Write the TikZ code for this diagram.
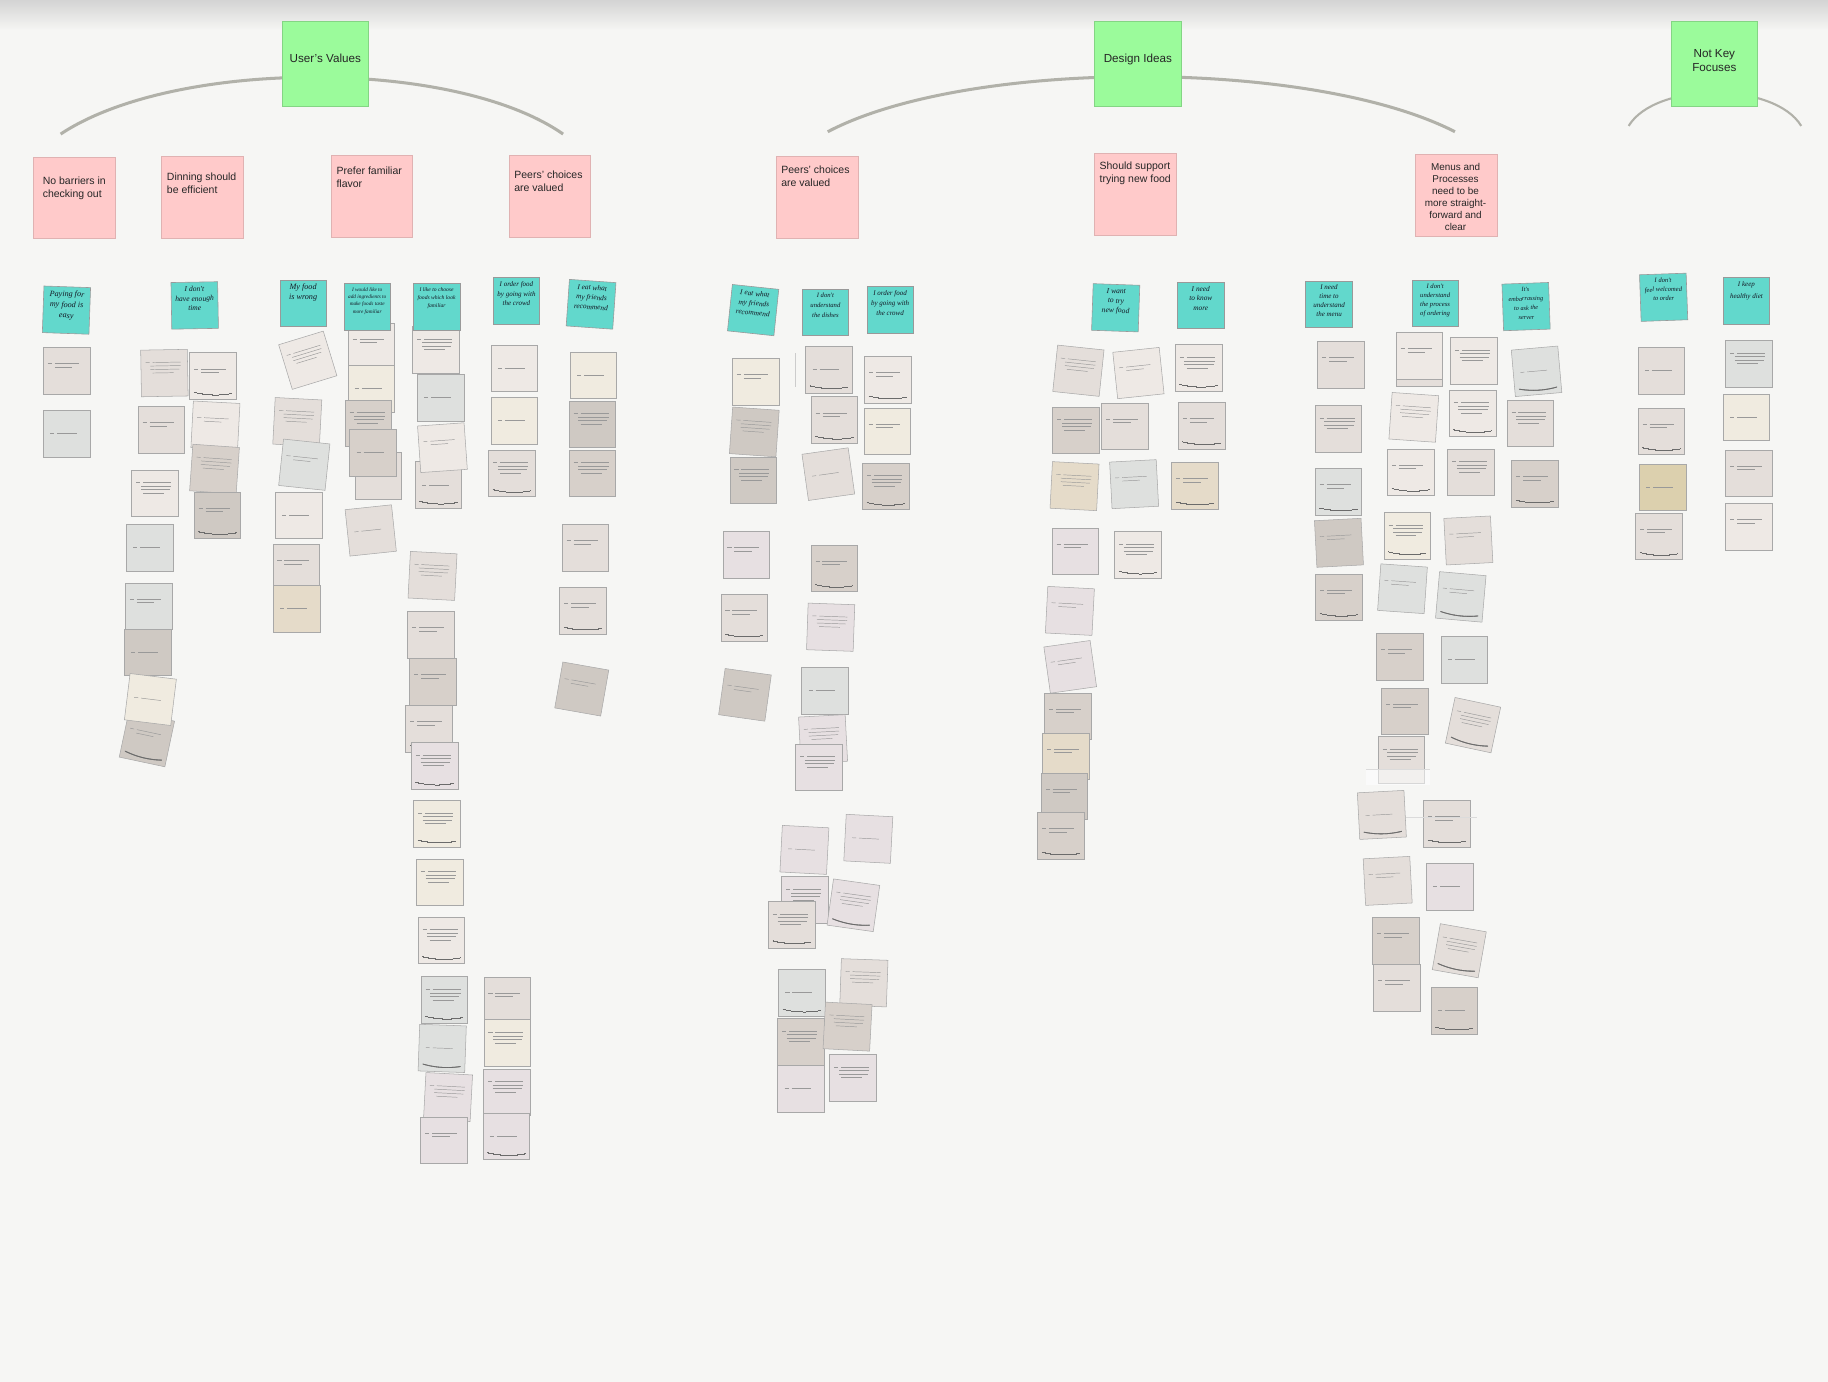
\documentclass[tikz,border=0pt]{standalone}
\usepackage{fontspec}
\setmainfont{Liberation Sans}
\newfontfamily\hand{Liberation Serif}

\definecolor{bg}{HTML}{F6F6F4}
\definecolor{greenn}{HTML}{9BFB9B}
\definecolor{pinkn}{HTML}{FFCACA}
\definecolor{tealn}{HTML}{62D8CC}
\definecolor{arcc}{HTML}{B1B1A9}
\definecolor{inkc}{HTML}{141A26}
\definecolor{cA}{HTML}{EEE9E5}
\definecolor{cB}{HTML}{E4DEDA}
\definecolor{cC}{HTML}{D7D0CA}
\definecolor{cD}{HTML}{DEE0DE}
\definecolor{cE}{HTML}{CFC9C3}
\definecolor{cF}{HTML}{F0EBE0}
\definecolor{cG}{HTML}{DCD0AE}
\definecolor{cH}{HTML}{E7E0E2}
\definecolor{cI}{HTML}{E5DBC9}

% printed text lines on the small cards
\newcommand\linesA{\put(2,24){\rule{3.5pt}{.4pt}}\put(8,24){\rule{21pt}{.4pt}}\put(8,21){\rule{15pt}{.4pt}}}
\newcommand\linesB{\put(2,27){\rule{3.5pt}{.4pt}}\put(8,27){\rule{24pt}{.4pt}}\put(6,24){\rule{26pt}{.4pt}}\put(6,21){\rule{25pt}{.4pt}}\put(8,18){\rule{18pt}{.4pt}}}
\newcommand\linesC{\put(4,18){\rule{3.5pt}{.4pt}}\put(10,18){\rule{17pt}{.4pt}}}
% curled lower edge of a card
\newcommand\curlline{{\color{black!58}\linethickness{0.7pt}\qbezier(2,4)(18,0)(34,3)}}
\newcommand\cpic[2]{\begin{picture}(36,36)\color{black!40}\csname lines#1\endcsname\ifnum#2=1\relax\curlline\fi\end{picture}}
% name, position, rotation, fill, text lines, curl
\newcommand\crd[6]{\node[card,fill=#4,rotate=#3] (#1) at (#2) {\cpic{#5}{#6}};}
% handwritten text of a teal note
\newcommand\tl[3]{\parbox[c][36pt][t]{36pt}{\centering\hand\itshape\fontsize{#1}{#2}\selectfont\color{inkc}\vspace*{1.5pt}#3}}

\begin{document}
\begin{tikzpicture}[x=1pt,y=-1pt,
  hdr/.style={draw=greenn!85!black, line width=0.4pt, fill=greenn, minimum width=74pt, minimum height=73pt, inner sep=0pt},
  pinknote/.style={draw=pinkn!88!black, line width=0.4pt, fill=pinkn, minimum width=70pt, minimum height=70pt, inner sep=0pt},
  hdrtext/.style={font=\fontsize{10}{11.5}\selectfont, text=black!85, align=center, inner sep=0pt},
  ptext/.style={font=\fontsize{9}{11}\selectfont, text=black!85, inner sep=0pt},
  tealnote/.style={draw=black!40, line width=0.5pt, fill=tealn, minimum width=40pt, minimum height=40pt, inner sep=2pt},
  card/.style={draw=black!34, line width=0.45pt, minimum width=40pt, minimum height=40pt, inner sep=2pt},
  bracket/.style={draw=arcc, line width=2.6pt}]

\fill[bg] (0,0) rectangle (1568,1185);
\shade[top color=black!17, bottom color=bg] (0,0) rectangle (1568,26);
\useasboundingbox (0,0) rectangle (1568,1185);

% brackets under the group headings
\coordinate (A1s) at (52,115);   \coordinate (A1e) at (483,115);
\coordinate (A2s) at (710,113);  \coordinate (A2e) at (1248,113);
\coordinate (A3s) at (1397,108); \coordinate (A3e) at (1545,108);
\draw[bracket] (A1s) .. controls (150,50) and (390,50) .. (A1e);
\draw[bracket] (A2s) .. controls (830,50) and (1125,50) .. (A2e);
\draw[bracket, line width=1.8pt] (A3s) .. controls (1420,70) and (1522,70) .. (A3e);

% group headings
\node[hdr] (G1) at (279,54.5) {};
\node[hdr] (G2) at (976,54.5) {};
\node[hdr] (G3) at (1470.5,54.5) {};
\node[hdrtext] (G1t) at (279,50) {User's Values};
\node[hdrtext] (G2t) at (976,51) {Design Ideas};
\node[hdrtext] (G3t) at (1470.5,52) {Not Key\\Focuses};

% pink insight notes
\node[pinknote] (P1) at (63.5,169.5) {};
\node[pinknote] (P2) at (173.5,169) {};
\node[pinknote] (P3) at (319,168.5) {};
\node[pinknote] (P4) at (471.5,168.5) {};
\node[pinknote] (P5) at (701,169) {};
\node[pinknote] (P6) at (974,166.5) {};
\node[pinknote] (P7) at (1249,167.5) {};
\node[ptext, anchor=west, align=left] (P1t) at (36.5,161.5) {No barriers in\\checking out};
\node[ptext, anchor=west, align=left] (P2t) at (143,157.5) {Dinning should\\be efficient};
\node[ptext, anchor=west, align=left] (P3t) at (288.5,152) {Prefer familiar\\flavor};
\node[ptext, anchor=west, align=left] (P4t) at (441,155.5) {Peers' choices\\are valued};
\node[ptext, anchor=west, align=left] (P5t) at (670,151.5) {Peers' choices\\are valued};
\node[ptext, anchor=west, align=left] (P6t) at (943,148.5) {Should support\\trying new food};
\node[ptext, align=center, font=\fontsize{8.5}{10.4}\selectfont] (P7t) at (1248.5,169) {Menus and\\Processes\\need to be\\more straight-\\forward and\\clear};

% ---- cards: User's Values ----
\crd{a1}{57,318}{0}{cB}{A}{0}
\crd{a2}{57,372}{0}{cD}{C}{0}

\crd{b1}{141,320}{1}{cB}{B}{0}
\crd{b2}{182.7,322.5}{0}{cA}{A}{1}
\crd{b3}{138.3,368.5}{0}{cB}{A}{0}
\crd{b4}{184.8,365}{-3}{cA}{A}{0}
\crd{b5}{184,402.4}{-4}{cC}{B}{0}
\crd{b6}{186.4,442}{0}{cE}{A}{1}
\crd{b7}{133,423}{0}{cA}{B}{0}
\crd{b8}{128.3,470}{0}{cD}{C}{0}
\crd{b9}{127.5,520}{0}{cD}{A}{0}
\crd{b10}{126.5,559.6}{0}{cE}{C}{0}
\crd{b12}{126,634}{-12}{cE}{A}{1}
\crd{b11}{129,600}{-7}{cF}{C}{0}

\crd{m1}{264,309}{17}{cA}{B}{0}
\crd{m2}{255,362}{-3}{cB}{B}{0}
\crd{m3}{261,398.6}{-6}{cD}{A}{0}
\crd{m4}{256,442}{0}{cA}{C}{0}
\crd{m5}{254,487}{0}{cB}{A}{0}
\crd{m6}{254.3,522}{0}{cI}{C}{0}

\crd{s1}{318.5,297}{0}{cA}{A}{0}
\crd{s2}{318.5,333.5}{0}{cF}{C}{1}
\crd{s5}{324.5,408}{0}{cB}{C}{0}
\crd{s3}{316,363}{0}{cC}{B}{0}
\crd{s4}{320,388.5}{0}{cC}{C}{0}
\crd{s6}{318,455}{6}{cB}{C}{0}

\crd{y1}{374,300}{0}{cA}{B}{0}
\crd{y2}{378,341}{0}{cD}{C}{0}
\crd{y4}{376,416}{0}{cB}{C}{1}
\crd{y3}{379.5,384}{4}{cA}{A}{0}
\crd{y5}{371,494}{-3}{cB}{B}{0}
\crd{y6}{369.5,544.5}{0}{cB}{A}{0}
\crd{y7}{371.4,584.7}{0}{cC}{A}{0}
\crd{y8}{368,625}{0}{cB}{A}{1}
\crd{y9}{372.7,657}{0}{cH}{B}{1}
\crd{y10}{374.6,706.6}{0}{cF}{B}{1}
\crd{y11}{377,756.7}{0}{cF}{B}{0}
\crd{y12}{378.5,806.6}{0}{cA}{B}{1}
\crd{y13}{381,857.8}{0}{cD}{B}{1}
\crd{y14}{379.3,899.3}{-2}{cD}{C}{1}
\crd{y15}{384.3,941}{-3}{cH}{B}{0}
\crd{y16}{380.6,978.2}{0}{cH}{A}{0}

\crd{z1}{441,316}{0}{cA}{C}{0}
\crd{z2}{441,361}{0}{cF}{C}{0}
\crd{z3}{439,406}{0}{cB}{B}{1}
\crd{z4}{435,858}{0}{cB}{A}{0}
\crd{z5}{435,894.7}{0}{cF}{B}{0}
\crd{z6}{434.6,936.8}{0}{cH}{B}{0}
\crd{z7}{434.3,974.7}{0}{cH}{C}{1}

\crd{k1}{509,322}{0}{cF}{C}{0}
\crd{k2}{508,364}{0}{cE}{B}{0}
\crd{k3}{508,406}{0}{cC}{B}{0}
\crd{k4}{502,470}{0}{cB}{A}{0}
\crd{k5}{500,524}{0}{cB}{A}{1}
\crd{k6}{499,591}{-10}{cE}{A}{0}

% ---- cards: Design Ideas ----
\crd{c8a}{648,327.4}{0}{cF}{A}{0}
\crd{c8b}{647,370.5}{-4}{cE}{B}{0}
\crd{c8c}{646,412}{0}{cE}{B}{0}
\crd{c8d}{640,476}{0}{cH}{A}{0}
\crd{c8e}{638.3,530}{0}{cB}{A}{1}
\crd{c8f}{639,596}{-8}{cE}{A}{0}
\draw[black!20, line width=0.6pt] (682,303) -- (682,332);

\crd{c9a}{711,317}{0}{cB}{C}{1}
\crd{c9b}{715.7,360.3}{0}{cB}{A}{1}
\crd{c9c}{710.5,406.7}{8}{cB}{C}{0}
\crd{c9d}{715.5,487.4}{0}{cC}{A}{1}
\crd{c9e}{712.5,538}{-2}{cH}{B}{0}
\crd{c9f}{707.5,592.3}{0}{cD}{C}{0}
\crd{c9g}{706,634}{3}{cH}{B}{0}
\crd{c9h}{702.3,658.2}{0}{cH}{B}{0}
\crd{c9j}{690,729}{-3}{cH}{C}{0}
\crd{c9k}{744.8,719.5}{-3}{cH}{C}{0}
\crd{c9l}{690.5,772}{0}{cH}{B}{0}
\crd{c9m}{679,793}{0}{cB}{B}{1}
\crd{c9n}{732,776.5}{-8}{cH}{B}{1}
\crd{c9o}{687.7,851.7}{0}{cD}{C}{1}
\crd{c9p}{741,843}{-2}{cB}{B}{0}
\crd{c9q}{686.8,893.5}{0}{cC}{B}{0}
\crd{c9r}{727,880.6}{-3}{cC}{B}{0}
\crd{c9s}{687,934}{0}{cH}{C}{0}
\crd{c9t}{731.7,924.5}{0}{cH}{B}{0}

\crd{c10a}{761.4,325.7}{0}{cA}{A}{1}
\crd{c10b}{761,370}{0}{cF}{A}{0}
\crd{c10c}{759.7,417}{0}{cC}{B}{1}

\crd{d1}{925,318}{-6}{cB}{B}{0}
\crd{d2}{976.5,320}{6}{cA}{A}{0}
\crd{d4}{923,369}{0}{cC}{B}{0}
\crd{d5}{964.8,365.7}{0}{cB}{A}{0}
\crd{d7}{921.7,417}{-3}{cI}{B}{0}
\crd{d8}{972.8,415.3}{3}{cD}{A}{0}
\crd{d10}{922.3,473}{0}{cH}{A}{0}
\crd{d11}{976,476}{0}{cA}{B}{1}
\crd{d12}{917.7,524}{-3}{cH}{A}{0}
\crd{d13}{918,572}{8}{cH}{A}{0}
\crd{d14}{916,614.5}{0}{cC}{A}{0}
\crd{d15}{914.4,648.6}{0}{cI}{A}{0}
\crd{d16}{913,683}{0}{cE}{A}{0}
\crd{d17}{910,717}{0}{cC}{A}{1}

\crd{d3}{1028,315.7}{0}{cA}{B}{1}
\crd{d6}{1030.6,365}{0}{cB}{A}{1}
\crd{d9}{1025,416.6}{0}{cI}{A}{1}

\crd{e1}{1150,313}{0}{cB}{A}{0}
\crd{e2}{1148,367.7}{0}{cB}{B}{0}
\crd{e3}{1148,421.7}{0}{cD}{A}{1}
\crd{e4}{1148.5,465.6}{3}{cE}{A}{0}
\crd{e5}{1148.3,512.2}{0}{cC}{A}{1}

\crd{e6b}{1217.5,311}{0}{cB}{C}{0}
\crd{e6}{1217.5,305}{0}{cA}{A}{0}
\crd{e7}{1264,309.5}{0}{cA}{B}{0}
\crd{e8}{1212.7,358}{-4}{cA}{B}{0}
\crd{e9}{1263,354.6}{0}{cA}{B}{1}
\crd{e10}{1210,405}{0}{cA}{A}{1}
\crd{e11}{1261.6,405}{0}{cB}{B}{0}
\crd{e12}{1207,459.4}{0}{cF}{B}{1}
\crd{e13}{1259.5,463.6}{3}{cB}{A}{0}
\crd{e14}{1203,505}{-4}{cD}{A}{0}
\crd{e15}{1253,512}{-5}{cD}{A}{1}
\crd{e16}{1200.5,563.3}{0}{cC}{A}{0}
\crd{e17}{1256,565.8}{0}{cD}{C}{0}
\crd{e18}{1205,610.2}{0}{cC}{A}{0}
\crd{e19}{1263.5,622}{-12}{cB}{B}{1}
\crd{e20}{1202,651.7}{0}{cB}{B}{0}
\fill[white, fill opacity=0.55] (1172,660.5) rectangle (1227,673);
\draw[black!14, line width=0.8pt] (1172,660.3) -- (1227,660.3);
\crd{e21}{1185.3,699}{3}{cB}{C}{1}
\crd{e22}{1241,706.5}{0}{cB}{A}{1}
\draw[black!14, line width=0.8pt] (1206,701) -- (1267,701);
\crd{e23}{1190.3,755.6}{3}{cB}{A}{0}
\crd{e24}{1243.5,760.5}{0}{cH}{C}{0}
\crd{e25}{1197.2,807}{0}{cC}{A}{0}
\crd{e26}{1251.7,815.5}{-10}{cB}{B}{1}
\crd{e27}{1198.3,847.2}{0}{cB}{A}{0}
\crd{e28}{1247.3,867}{0}{cC}{C}{1}

\crd{f1}{1318,318.5}{5}{cD}{C}{1}
\crd{f2}{1312.5,363}{0}{cB}{B}{0}
\crd{f3}{1316.5,415}{0}{cC}{A}{1}

% ---- cards: Not Key Focuses ----
\crd{g1}{1425,318}{0}{cB}{C}{0}
\crd{g2}{1425,370}{0}{cB}{A}{1}
\crd{g3}{1426,418}{0}{cG}{C}{0}
\crd{g4}{1423,460}{0}{cB}{A}{1}

\crd{h1}{1500,312}{0}{cD}{B}{0}
\crd{h2}{1498,358}{0}{cF}{C}{0}
\crd{h3}{1500,406}{0}{cB}{A}{0}
\crd{h4}{1500,452}{0}{cA}{A}{0}

% teal handwritten notes
\node[tealnote, rotate=-2] (T1) at (57,266) {\tl{7}{9.2}{Paying for\\my food is\\easy}};
\node[tealnote, rotate=1] (T2) at (167,262) {\tl{6.5}{8.3}{I don't\\have enough\\time}};
\node[tealnote] (T3) at (260,260) {\tl{7}{8.8}{My food\\is wrong}};
\node[tealnote] (T4) at (315,263) {\tl{4.5}{6.3}{I would like to\\add ingredients to\\make foods taste\\more familiar}};
\node[tealnote] (T5) at (374.5,263) {\tl{4.8}{7}{I like to choose\\foods which look\\familiar}};
\node[tealnote] (T6) at (443,258) {\tl{6}{8.3}{I order food\\by going with\\the crowd}};
\node[tealnote, rotate=-4] (T7) at (507,261) {\tl{6.3}{8.3}{I eat what\\my friends\\recommend}};
\node[tealnote, rotate=-6] (T8) at (646,266) {\tl{6.3}{8.3}{I eat what\\my friends\\recommend}};
\node[tealnote] (T9) at (708,268) {\tl{5.7}{8.5}{I don't\\understand\\the dishes}};
\node[tealnote] (T10) at (763.5,266) {\tl{6}{8.5}{I order food\\by going with\\the crowd}};
\node[tealnote, rotate=-2] (T11) at (957,264) {\tl{6.5}{8.3}{I want\\to try\\new food}};
\node[tealnote] (T12) at (1030,262) {\tl{6.3}{8.3}{I need\\to know\\more}};
\node[tealnote] (T13) at (1140,261) {\tl{6}{7.7}{I need\\time to\\understand\\the menu}};
\node[tealnote] (T14) at (1231,260) {\tl{5.7}{7.7}{I don't\\understand\\the process\\of ordering}};
\node[tealnote, rotate=2] (T15) at (1309,263) {\tl{5.4}{8}{It's embarrassing\\to ask the\\server}};
\node[tealnote, rotate=2] (T16) at (1427,255) {\tl{5.6}{7.7}{I don't\\feel welcomed\\to order}};
\node[tealnote] (T17) at (1498,258) {\tl{6}{10}{I keep\\healthy diet}};

\end{tikzpicture}
\end{document}
